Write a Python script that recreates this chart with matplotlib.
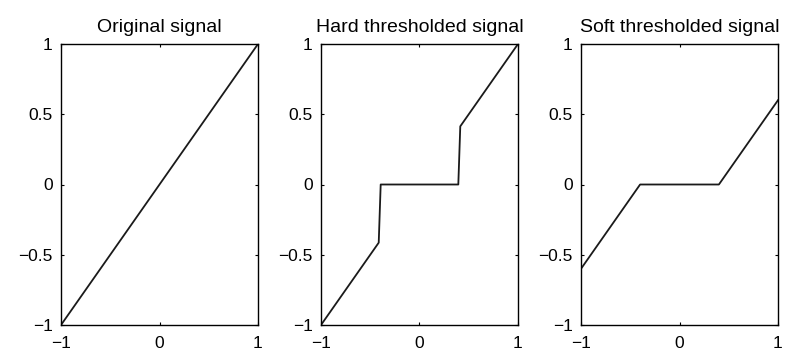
import matplotlib
matplotlib.use('Agg')
import matplotlib.pyplot as plt

# valores
orig_x = [-1, 1]
orig_y = [-1, 1]
hard_x = [-1, -0.414, -0.394, 0.394, 0.414, 1]
hard_y = [-1, -0.414, 0, 0, 0.414, 1]
soft_x = [-1, -0.4, 0.4, 1]
soft_y = [-0.6, 0, 0, 0.6]

titles = ['Original signal', 'Hard thresholded signal', 'Soft thresholded signal']
xticks = [-1, 0, 1]
yticks = [-1, -0.5, 0, 0.5, 1]
ytick_labels = ['\u22121', '\u22120.5', '0', '0.5', '1']
xtick_labels = ['\u22121', '0', '1']

plt.rcParams['font.family'] = ['Liberation Sans', 'DejaVu Sans']
plt.rcParams['font.size'] = 12.5

fig = plt.figure(figsize=(7.91, 3.51), dpi=100)
lefts = [61 / 791, 321 / 791, 581 / 791]
series = [(orig_x, orig_y), (hard_x, hard_y), (soft_x, soft_y)]

for left, (x, y), title in zip(lefts, series, titles):
    ax = fig.add_axes([left, 26 / 351, 197 / 791, 281 / 351])
    ax.plot(x, y, color='#1a1a1a', linewidth=1.3)
    ax.set_xlim(-1, 1)
    ax.set_ylim(-1, 1)
    ax.set_xticks(xticks)
    ax.set_xticklabels(xtick_labels)
    ax.set_yticks(yticks)
    ax.set_yticklabels(ytick_labels)
    ax.tick_params(direction='in', length=2, width=0.8, top=True, right=True)
    ax.tick_params(axis='y', pad=6)
    ax.tick_params(axis='x', pad=8)
    for s in ax.spines.values():
        s.set_linewidth(1.0)
    ax.set_title(title, pad=9, fontsize=14)

fig.savefig('out.png', dpi=100)
plt.close(fig)
